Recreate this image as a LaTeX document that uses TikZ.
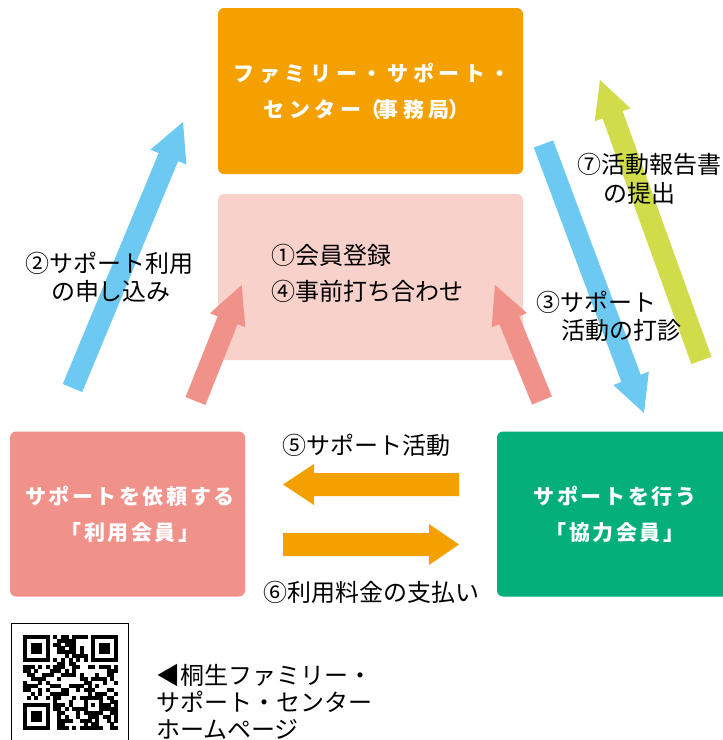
\documentclass[tikz,border=0pt]{standalone}
\usepackage{fontspec}
\setmainfont{Noto Sans CJK JP}
\newfontfamily\topfont{Noto Sans CJK JP}[LetterSpace=22]
\newfontfamily\boxfont{Noto Sans CJK JP}[LetterSpace=12]
\usetikzlibrary{calc}
\definecolor{cOrange}{HTML}{F4A100}
\definecolor{cLpink}{HTML}{F8D1CB}
\definecolor{cSalmon}{HTML}{F0918A}
\definecolor{cGreen}{HTML}{04AF7A}
\definecolor{cBlue}{HTML}{6CC9F2}
\definecolor{cLime}{HTML}{D1DC4B}
% block arrow: #1 colour, #2 tail coordinate, #3 tip coordinate,
% #4 shaft half width, #5 head half width, #6 head length
\newcommand\blockarrow[6]{%
  \coordinate (ba-h) at ($(#3)!#6!(#2)$);
  \fill[#1] ($(#2)!#4!90:(#3)$) -- ($(ba-h)!#4!90:(#3)$) -- ($(ba-h)!#5!90:(#3)$)
    -- (#3) -- ($(ba-h)!#5!-90:(#3)$) -- ($(ba-h)!#4!-90:(#3)$)
    -- ($(#2)!#4!-90:(#3)$) -- cycle;}
\tikzset{
  panel/.style={rounded corners=6pt, inner sep=0pt, draw=none},
  toptxt/.style={font=\topfont\bfseries\fontsize{21}{21}\selectfont, text=white,
    inner sep=0pt, text height=18.48pt, text depth=2.52pt},
  boxtxt/.style={font=\boxfont\bfseries\fontsize{21}{21}\selectfont, text=white,
    inner sep=0pt, text height=18.48pt, text depth=2.52pt},
  lbl/.style={font=\fontsize{24}{24}\selectfont, text=black,
    inner sep=0pt, text height=21.12pt, text depth=2.88pt},
}
\begin{document}
\begin{tikzpicture}[x=1pt,y=-1pt]
\clip (0,0) rectangle (723,740);
\fill[white] (0,0) rectangle (723,740);

% panels
\node[panel, fill=cOrange, minimum width=305pt, minimum height=166pt] (office) at (370.5,91) {};
\node[panel, fill=cLpink, minimum width=305pt, minimum height=166pt] (meet) at (370.5,277) {};
\node[panel, fill=cSalmon, minimum width=235pt, minimum height=165pt] (user) at (127.5,514) {};
\node[panel, fill=cGreen, minimum width=240pt, minimum height=165pt] (helper) at (617,514) {};

% panel texts
\node[toptxt, anchor=west] (office1) at (233.5,74) {ファミリー・サポート・};
\node[toptxt, anchor=west] (office2) at (263.5,110) {センター\kern-1pt（\kern-4pt事務局\kern-1pt）};
\node[lbl, anchor=west] (meet1) at (271,255) {①会員登録};
\node[lbl, anchor=west] (meet2) at (271,291) {④事前打ち合わせ};
\node[boxtxt] (user1) at (130,497) {サポートを依頼する};
\node[boxtxt] (user2) at (130,533) {「利用会員」};
\node[boxtxt] (helper1) at (615,497) {サポートを行う};
\node[boxtxt] (helper2) at (615,533) {「協力会員」};

% arrow end points
\coordinate (a2t) at (72.5,388);   \coordinate (a2h) at (183,122);
\coordinate (a3t) at (543.5,144);  \coordinate (a3h) at (644,413);
\coordinate (a7t) at (701.4,360.4);\coordinate (a7h) at (600,80);
\coordinate (p1t) at (195.5,401);  \coordinate (p1h) at (241.7,285);
\coordinate (p2t) at (542,400.5);  \coordinate (p2h) at (495,285);
\coordinate (a5t) at (459,484.5);  \coordinate (a5h) at (283,484.5);
\coordinate (a6t) at (283,544.5);  \coordinate (a6h) at (459,544.5);

\blockarrow{cBlue}{a2t}{a2h}{10.5pt}{19.5pt}{38pt}
\blockarrow{cBlue}{a3t}{a3h}{10.3pt}{19pt}{37pt}
\blockarrow{cLime}{a7t}{a7h}{10.7pt}{19pt}{37pt}
\blockarrow{cSalmon}{p1t}{p1h}{10.7pt}{19pt}{38pt}
\blockarrow{cSalmon}{p2t}{p2h}{10.7pt}{19pt}{38pt}
\blockarrow{cOrange}{a5t}{a5h}{11.5pt}{20.5pt}{31pt}
\blockarrow{cOrange}{a6t}{a6h}{11.5pt}{20.5pt}{30pt}

% arrow labels
\node[lbl] (l2a) at (110,263) {②サポート利用};
\node[lbl] (l2b) at (111,291) {の申し込み};
\node[lbl, anchor=west] (l3a) at (536,302) {③サポート};
\node[lbl, anchor=west] (l3b) at (561,330) {活動の打診};
\node[lbl, anchor=west] (l7a) at (577,164) {⑦活動報告書};
\node[lbl, anchor=west] (l7b) at (603,193) {の提出};
\node[lbl] (l5) at (366,445) {⑤サポート活動};
\node[lbl] (l6) at (371,592) {⑥利用料金の支払い};

% QR code
\draw[line width=1.2pt] (11.5,623.5) rectangle (128.5,770);
\begin{scope}[shift={(23,635)}]
  \pgfmathsetseed{777}
  \foreach \r in {0,...,24}{
    \foreach \c in {0,...,24}{
      \pgfmathtruncatemacro{\reserved}{(\r<8)*(\c<8)+(\r<8)*(\c>16)+(\r>16)*(\c<8)+(\r>15)*(\r<21)*(\c>15)*(\c<21)+(\r==6)+(\c==6)}
      \ifnum\reserved=0
        \pgfmathrandominteger{\bit}{0}{1}
        \ifnum\bit=1 \fill (\c*3.8,\r*3.8) rectangle ++(3.9,3.9);\fi
      \fi
    }}
  \foreach \k in {8,10,...,16}{
    \fill (\k*3.8,6*3.8) rectangle ++(3.9,3.9);
    \fill (6*3.8,\k*3.8) rectangle ++(3.9,3.9);}
  \foreach \fx/\fy in {0/0,18/0,0/18}{
    \fill (\fx*3.8,\fy*3.8) rectangle ++(26.6,26.6);
    \fill[white] ({(\fx+1)*3.8},{(\fy+1)*3.8}) rectangle ++(19,19);
    \fill ({(\fx+2)*3.8},{(\fy+2)*3.8}) rectangle ++(11.4,11.4);}
  \fill (16*3.8,16*3.8) rectangle ++(19,19);
  \fill[white] (17*3.8,17*3.8) rectangle ++(11.4,11.4);
  \fill (18*3.8,18*3.8) rectangle ++(3.8,3.8);
\end{scope}

% home page text
\node[lbl, anchor=west] (hp1) at (156,675) {◀桐生ファミリー・};
\node[lbl, anchor=west] (hp2) at (156,702) {サポート・センター};
\node[lbl, anchor=west] (hp3) at (156,729) {ホームページ};
\end{tikzpicture}
\end{document}
